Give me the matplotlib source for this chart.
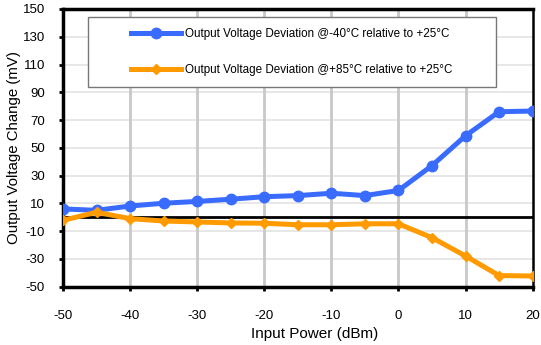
#!/usr/bin/env python3

import matplotlib
matplotlib.use("Agg")
import matplotlib.pyplot as plt
from matplotlib.patches import Rectangle

plt.rcParams["font.family"] = ["Liberation Sans", "DejaVu Sans"]
plt.rcParams["axes.unicode_minus"] = False

# input power sweep (dBm)
power = [-50, -45, -40, -35, -30, -25, -20, -15, -10, -5, 0, 5, 10, 15, 20]

# output voltage deviation relative to +25C (mV)
dev_cold = [6.0, 5.0, 8.1, 10.1, 11.4, 13.0, 14.8, 15.6, 17.3, 15.6, 19.3, 37.2, 58.7, 76.0, 76.5]
dev_hot = [-2.2, 3.6, -1.0, -2.7, -3.4, -4.1, -4.3, -5.4, -5.4, -4.7, -4.7, -14.7, -27.9, -42.0, -42.3]

label_cold = "Output Voltage Deviation @-40°C relative to +25°C"
label_hot = "Output Voltage Deviation @+85°C relative to +25°C"

xticks = [-50, -40, -30, -20, -10, 0, 10, 20]
yticks = [-50, -30, -10, 10, 30, 50, 70, 90, 110, 130, 150]


def main():
    fig = plt.figure(figsize=(5.41, 3.45), dpi=100)
    ax = fig.add_axes([0.1165, 0.169, 0.868, 0.805])

    ax.plot(power, dev_cold, color="#3a6bff", lw=3.6, marker="o", ms=7.5,
            label=label_cold, zorder=4)
    ax.plot(power, dev_hot, color="#ff9a00", lw=3.6, marker="D", ms=5,
            label=label_hot, zorder=4)
    ax.axhline(0, color="black", lw=2, zorder=3)

    ax.set_xlim(-50, 20)
    ax.set_ylim(-50, 150)
    ax.set_xticks(xticks)
    ax.set_yticks(yticks)

    # light horizontal grid, heavier vertical grid
    for y in yticks[1:-1]:
        ax.axhline(y, color="#e3e3e3", lw=1.2, zorder=1)
    for x in xticks[1:-1]:
        ax.axvline(x, color="#c8c8c8", lw=2, zorder=1)

    for side in ["left", "bottom", "top"]:
        ax.spines[side].set_linewidth(2.5)
    ax.spines["right"].set_linewidth(1.8)
    ax.tick_params(axis="both", labelsize=9.5, width=2, length=3, direction="out")
    ax.tick_params(axis="x", pad=14)
    ax.tick_params(axis="y", pad=10)

    ax.set_xlabel("Input Power (dBm)", fontsize=11)
    ax.xaxis.set_label_coords(0.535, -0.145)
    ax.set_ylabel("Output Voltage Change (mV)", fontsize=10.8)
    ax.yaxis.set_label_coords(-0.09, 0.5)

    # legend frame drawn separately (wide padding in the original)
    frame = Rectangle((0.0532, 0.719), 0.869, 0.252, transform=ax.transAxes,
                      facecolor="white", edgecolor="#777777", lw=1, zorder=5)
    ax.add_patch(frame)
    leg = ax.legend(loc="center left", bbox_to_anchor=(0.145, 0.845), fontsize=8.4,
                    handlelength=4.3, labelspacing=2.1, borderpad=0,
                    handletextpad=0.35, borderaxespad=0, frameon=False)
    leg.set_zorder(6)

    fig.savefig("out.png", dpi=100)
    plt.close("all")


if __name__ == "__main__":
    main()
